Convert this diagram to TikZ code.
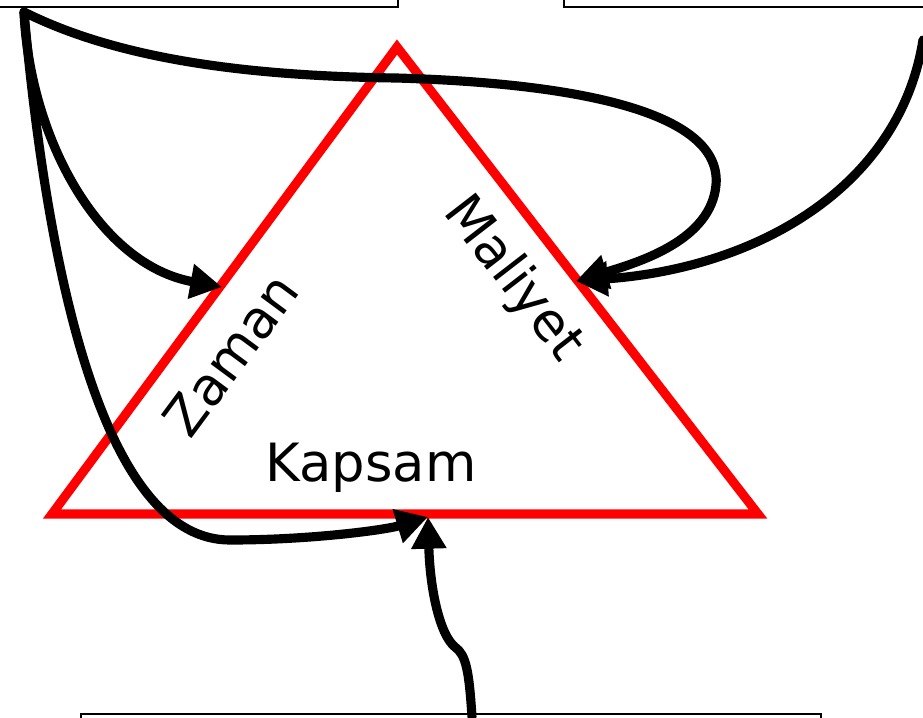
\documentclass[tikz,border=0pt]{standalone}
\usepackage{fontspec}
\setmainfont{DejaVu Sans}
\usetikzlibrary{arrows.meta}
\begin{document}
\begin{tikzpicture}[x=0.01cm,y=-0.01cm,
  box/.style={draw=black, line width=0.5pt, rectangle, inner sep=0pt, anchor=north west},
  tri/.style={draw=red, line width=2.6pt},
  conn/.style={draw=black, line width=2.6pt, line cap=round, -{Triangle[length=9pt,width=9.5pt]}},
  lbl/.style={font=\fontsize{15}{18}\selectfont, inner sep=0pt}]
\useasboundingbox (0,0) rectangle (923,717);
\clip (0,0) rectangle (923,717);
% boxes
\node[box, minimum width=427*0.01cm, minimum height=0.6cm] (tl) at (-30,-54) {};
\node[box, minimum width=400*0.01cm, minimum height=0.6cm] (tr) at (563,-54) {};
\node[box, minimum width=740*0.01cm, minimum height=0.6cm] (bt) at (80,713) {};
% triangle
\coordinate (A) at (52,514);
\coordinate (B) at (397,47);
\coordinate (C) at (758,514);
\draw[tri, line join=miter] (A) -- (B) -- (C) -- cycle;
% labels
\node[lbl, rotate=53.5] (zaman) at (231,355) {Zaman};
\node[lbl, rotate=-52.3] (maliyet) at (513,279) {Maliyet};
\node[lbl] (kapsam) at (371,468) {Kapsam};
% connector endpoints
\coordinate (s) at (24,12);
\coordinate (tz) at (222,287);
\coordinate (tm) at (576,281);
\coordinate (tk) at (428,517);
\coordinate (sr) at (923,40);
\coordinate (sb) at (472,717);
% connectors
\draw[conn] (s) .. controls (30,140) and (100,265) .. (tz);
\draw[conn] (s) .. controls (120,60) and (250,76) .. (397,78)
  .. controls (600,84) and (722,118) .. (716,185)
  .. controls (711,240) and (640,262) .. (tm);
\draw[conn] (sr) .. controls (900,185) and (760,268) .. (tm);
\draw[conn] (s) .. controls (50,300) and (110,540) .. (230,540)
  .. controls (310,540) and (385,530) .. (tk);
\draw[conn] (sb) .. controls (469,670) and (466,655) .. (455,647)
  .. controls (440,635) and (430,590) .. (tk);
\end{tikzpicture}
\end{document}
